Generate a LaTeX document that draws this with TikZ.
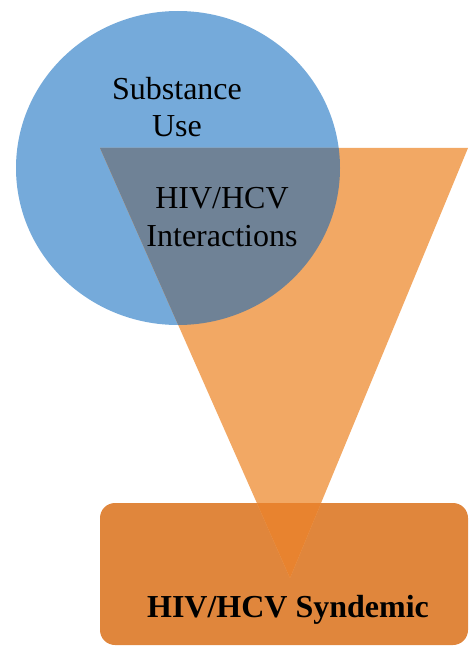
\documentclass[tikz,border=0pt]{standalone}
\usepackage{fontspec}
\setmainfont{Liberation Serif}
\definecolor{useblue}{HTML}{75AADA}
\definecolor{funnelorange}{HTML}{F2A864}
\definecolor{overlapgrey}{HTML}{6F8296}
\definecolor{syndemicbox}{HTML}{E0863C}
\definecolor{funneltip}{HTML}{E8832F}
\tikzset{
  lbl/.style={font=\fontsize{32}{37.5}\selectfont, align=center, text=black, inner sep=0pt},
  boldlbl/.style={lbl, font=\fontsize{32}{37.5}\selectfont\bfseries}
}
\begin{document}
\begin{tikzpicture}[x=1pt,y=-1pt]
  \useasboundingbox (0,0) rectangle (468,647);
  % substance use circle
  \fill[useblue] (178,168) ellipse [x radius=162, y radius=157];
  % syndemic box
  \fill[syndemicbox, rounded corners=15pt] (100,503) rectangle (468,645);
  % funnel
  \fill[funnelorange] (100,148) -- (468,148) -- (290,578) -- cycle;
  % funnel inside the circle
  \begin{scope}
    \clip (100,148) -- (468,148) -- (290,578) -- cycle;
    \fill[overlapgrey] (178,168) ellipse [x radius=162, y radius=157];
  \end{scope}
  % funnel tip inside the box
  \begin{scope}
    \clip[rounded corners=15pt] (100,503) rectangle (468,645);
    \fill[funneltip] (100,148) -- (468,148) -- (290,578) -- cycle;
  \end{scope}
  \node[lbl, anchor=base] (use) at (177,137) {Substance\\Use};
  \node[lbl, anchor=base] (inter) at (222,246) {HIV/HCV\\Interactions};
  \node[boldlbl, anchor=base] (synd) at (288,617) {HIV/HCV Syndemic};
\end{tikzpicture}
\end{document}
